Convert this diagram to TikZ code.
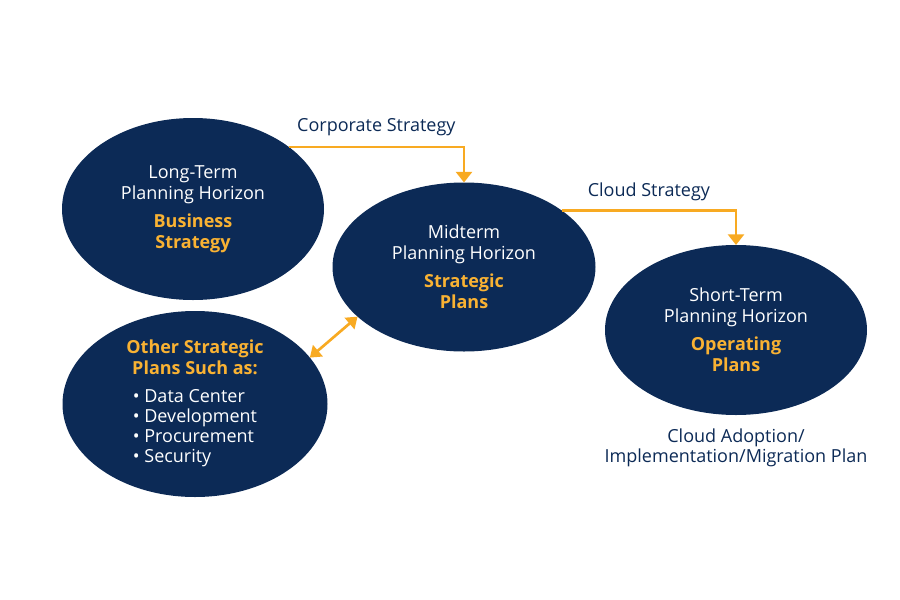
\documentclass[tikz,border=0pt]{standalone}
\usepackage{fontspec}
\setmainfont{Open Sans}
\usepackage{tikz}
\usetikzlibrary{arrows.meta,positioning,shapes.geometric}
\usepackage{xcolor}
\definecolor{navy}{HTML}{0C2A56}
\definecolor{gold}{HTML}{F8AA22}
\definecolor{hltext}{HTML}{F9B233}
\newcommand{\hl}[1]{\textcolor{hltext}{\bfseries #1}}

\tikzset{
  horizon/.style={ellipse, fill=navy, text=white, inner sep=0pt, outer sep=0pt,
    align=center, font=\fontsize{13.5}{15.75}\selectfont},
  feed/.style={draw=gold, line width=2pt, -{Triangle[width=12pt,length=8pt]}},
  link/.style={draw=gold, line width=2pt,
    {Triangle[width=11pt,length=8pt]}-{Triangle[width=11pt,length=8pt]}},
  caption/.style={text=navy, font=\fontsize{13.5}{15}\selectfont, align=center},
}

\begin{document}
\begin{tikzpicture}[x=0.75pt,y=-0.75pt]
    \useasboundingbox (0,0) rectangle (900,600);
    %% the four planning horizons
    \node[horizon, minimum width=196.5pt, minimum height=136.5pt] (long) at (193,209)
      {Long-Term\\Planning Horizon\\[5pt]\hl{Business}\\\hl{Strategy}};
    \node[horizon, minimum width=197.25pt, minimum height=126.75pt] (mid) at (464,267)
      {Midterm\\Planning Horizon\\[5pt]\hl{Strategic}\\\hl{Plans}};
    \node[horizon, minimum width=196.5pt, minimum height=127.5pt] (short) at (736,330)
      {Short-Term\\Planning Horizon\\[5pt]\hl{Operating}\\\hl{Plans}};
    \node[horizon, minimum width=198.75pt, minimum height=139.5pt] (other) at (195,404)
      {\hl{Other Strategic}\\\hl{Plans Such as:}\\[9pt]
       \renewcommand{\arraystretch}{0.95}%
       \begin{tabular}{@{}l@{}}
         \textbullet\ Data Center\\
         \textbullet\ Development\\
         \textbullet\ Procurement\\
         \textbullet\ Security
       \end{tabular}};
    %% strategy flows
    \draw[feed] (long.33) -| node[pos=0.25, above=4pt, caption] (corp) {Corporate Strategy} (mid.north);
    \draw[feed] (mid.30) -| node[pos=0.25, above=3pt, caption] (cloud) {Cloud Strategy} (short.north);
    \draw[link] (other.22) -- (mid.205);
    \node[caption, below=7pt of short] (plan) {Cloud Adoption/\\Implementation/Migration Plan};
\end{tikzpicture}
\end{document}
